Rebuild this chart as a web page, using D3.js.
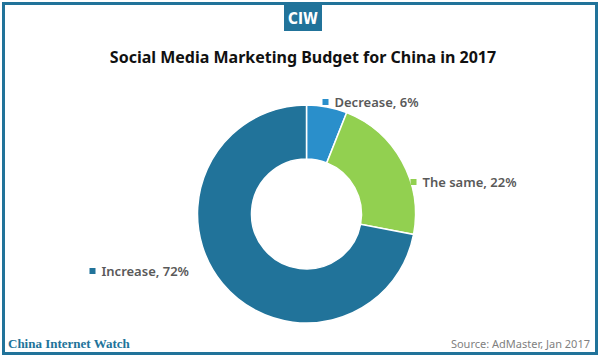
<!DOCTYPE html>
<html><head><meta charset="utf-8">
<script src="https://cdn.jsdelivr.net/npm/d3@7"></script>
<style>body{margin:0;background:#fff}svg{display:block}</style>
</head><body>
<svg id="c" width="600" height="359"></svg>
<script>
const categories = ["Decrease", "The same", "Increase"];
const values = [6, 22, 72];
const colors = ["#2a8fcb", "#92d050", "#21739a"];
// label anchor points (square marker position) in pixels, relative to donut centre
const labelPos = [[19, -112], [107, -32], [-214, 57]];

const svg = d3.select("#c");
const W = 600, H = 359;
svg.append("rect").attr("x",0).attr("y",0).attr("width",W).attr("height",H).attr("fill","#fff");
svg.append("rect").attr("x",3.5).attr("y",3.5).attr("width",593).attr("height",350)
  .attr("fill","none").attr("stroke","#21739a").attr("stroke-width",3);

// badge
svg.append("rect").attr("x",284).attr("y",3).attr("width",38).attr("height",28).attr("fill","#21739a");
svg.append("text").attr("x",303).attr("y",24).attr("text-anchor","middle")
  .attr("font-family","'DejaVu Sans Condensed','DejaVu Sans'").attr("font-weight","bold")
  .attr("font-size",15).attr("fill","#fff").text("CIW");

svg.append("text").attr("x",303).attr("y",63).attr("text-anchor","middle")
  .attr("font-family","'Noto Sans',sans-serif").attr("font-weight","bold")
  .attr("font-size",16).attr("fill","#111").text("Social Media Marketing Budget for China in 2017");

const cx = 306.5, cy = 214, R = 109, r = 55;
const pie = d3.pie().sort(null).value(d => d.v);
const data = pie(categories.map((c,i)=>({c, v: values[i], col: colors[i], lp: labelPos[i]})));
const arc = d3.arc().innerRadius(r).outerRadius(R);
const g = svg.append("g").attr("transform",`translate(${cx},${cy})`);
g.selectAll("path").data(data).join("path").attr("d",arc)
  .attr("fill",d=>d.data.col).attr("stroke","#fff").attr("stroke-width",1.5);

const lg = g.selectAll("g.lab").data(data).join("g").attr("class","lab")
  .attr("transform",d=>`translate(${d.data.lp[0]},${d.data.lp[1]})`);
lg.append("rect").attr("x",-3).attr("y",-3).attr("width",6).attr("height",6).attr("fill",d=>d.data.col);
lg.append("text").attr("x",9).attr("y",5).attr("font-family","'Noto Sans',sans-serif")
  .attr("font-size",13).attr("font-weight",600).attr("fill","#595959")
  .text(d=>`${d.data.c}, ${d.data.v}%`);

svg.append("text").attr("x",8).attr("y",348).attr("font-family","'Liberation Serif',serif")
  .attr("font-weight","bold").attr("font-size",13).attr("fill","#21739a").text("China Internet Watch");
svg.append("text").attr("x",590).attr("y",348).attr("text-anchor","end")
  .attr("font-family","'Noto Sans',sans-serif").attr("font-size",11).attr("fill","#7f7f7f")
  .text("Source: AdMaster, Jan 2017");
</script>
</body></html>
